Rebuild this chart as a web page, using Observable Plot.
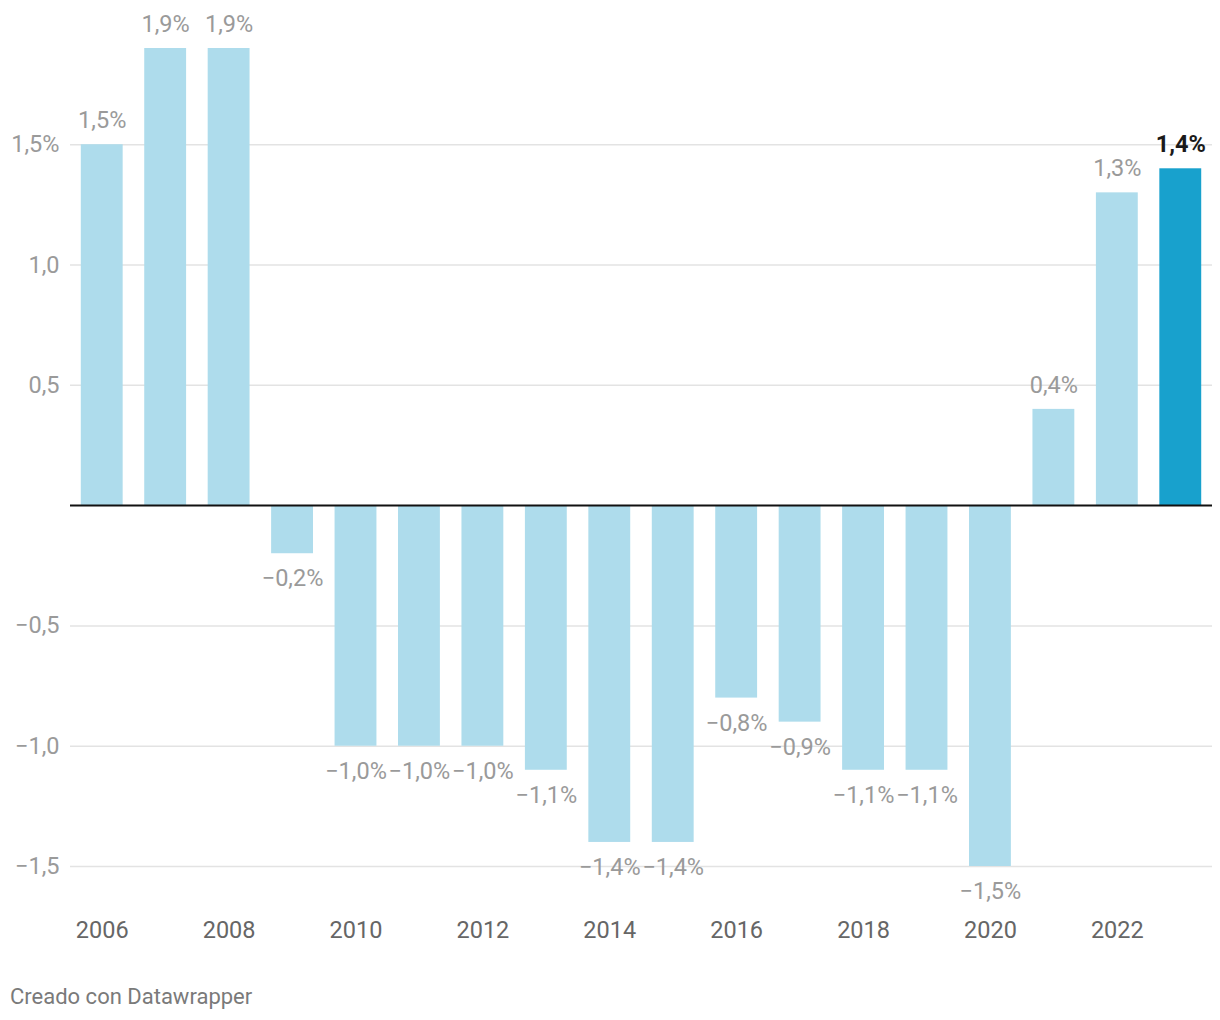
<!DOCTYPE html>
<html>
<head>
<meta charset="utf-8">
<script src="https://cdn.jsdelivr.net/npm/d3@7"></script>
<script src="https://cdn.jsdelivr.net/npm/@observablehq/plot@0.6"></script>
<style>
  html, body { margin: 0; padding: 0; background: #fff; }
  body { width: 1220px; font-family: Roboto, "Noto Sans", sans-serif; }
  #caption { margin: 24px 0 0 10px; font-size: 22px; line-height: 26px; color: #7a7a7a; }
</style>
</head>
<body>
<div id="chart"></div>
<div id="caption">Creado con Datawrapper</div>
<script>
const years = [2006, 2007, 2008, 2009, 2010, 2011, 2012, 2013, 2014, 2015, 2016, 2017, 2018, 2019, 2020, 2021, 2022, 2023];
const values = [1.5, 1.9, 1.9, -0.2, -1.0, -1.0, -1.0, -1.1, -1.4, -1.4, -0.8, -0.9, -1.1, -1.1, -1.5, 0.4, 1.3, 1.4];
const highlightYear = 2023;
const yTicks = [-1.5, -1.0, -0.5, 0.5, 1.0, 1.5];
const yTickLabels = ["−1,5", "−1,0", "−0,5", "0,5", "1,0", "1,5%"];
const xTicks = [2006, 2008, 2010, 2012, 2014, 2016, 2018, 2020, 2022];

const data = years.map((year, i) => ({year, value: values[i]}));
const fmt = v => (v < 0 ? "−" : "") + Math.abs(v).toFixed(1).replace(".", ",") + "%";
const pos = data.filter(d => d.value >= 0 && d.year !== highlightYear);
const neg = data.filter(d => d.value < 0 && d.year !== highlightYear);
const hi = data.filter(d => d.year === highlightYear);

const FS = 23.5;
const chart = Plot.plot({
  width: 1220,
  height: 960,
  marginTop: 48,
  marginBottom: 94,
  marginLeft: 70,
  marginRight: 8,
  style: {fontFamily: "Roboto, sans-serif", fontSize: FS + "px", background: "#fff"},
  x: {type: "band", domain: years, paddingInner: 0.34, paddingOuter: 0.17, round: false},
  y: {domain: [-1.5, 1.9]},
  marks: [
    Plot.gridY(yTicks, {stroke: "#e3e3e3", strokeOpacity: 1, strokeWidth: 1.5}),
    Plot.barY(data, {
      x: "year", y: "value",
      fill: d => d.year === highlightYear ? "#18a1cd" : "#aedcec"
    }),
    Plot.ruleY([0], {stroke: "#111", strokeWidth: 2}),
    Plot.text(pos, {
      x: "year", y: "value", text: d => fmt(d.value),
      dy: -24, fill: "#9a9a9a", fontSize: FS
    }),
    Plot.text(neg, {
      x: "year", y: "value", text: d => fmt(d.value),
      dy: 25, fill: "#9a9a9a", fontSize: FS
    }),
    Plot.text(hi, {
      x: "year", y: "value", text: d => fmt(d.value),
      dy: -24, fill: "#1a1a1a", fontWeight: "bold", fontSize: FS
    }),
    Plot.axisY({
      ticks: yTicks, tickSize: 0, tickPadding: 11,
      tickFormat: d => yTickLabels[yTicks.indexOf(d)],
      label: null, color: "#9a9a9a", fontSize: FS
    }),
    Plot.axisX({
      ticks: xTicks, tickSize: 0, tickPadding: 55,
      tickFormat: d => String(d), label: null, color: "#666", fontSize: FS
    })
  ]
});
document.getElementById("chart").appendChild(chart);
</script>
</body>
</html>
